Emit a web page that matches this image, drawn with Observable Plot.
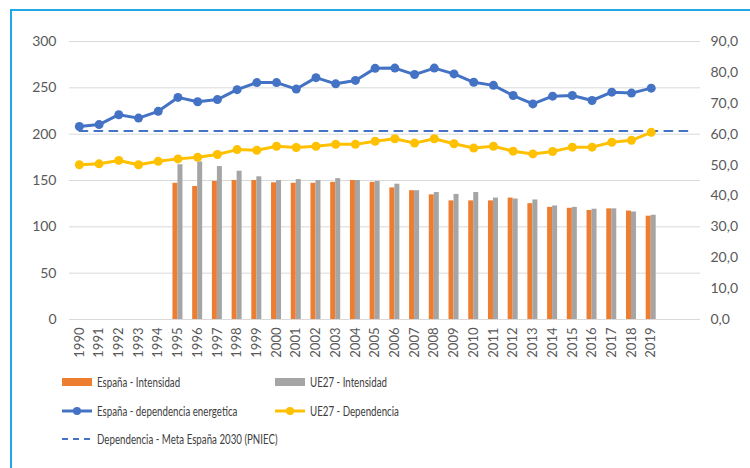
<!DOCTYPE html>
<html>
<head>
<meta charset="utf-8">
<script src="https://cdn.jsdelivr.net/npm/d3@7"></script>
<script src="https://cdn.jsdelivr.net/npm/@observablehq/plot@0.6"></script>
<style>
  body { margin: 0; background: #fff; font-family: Lato, "Open Sans", sans-serif; }
  #frame { position: absolute; left: 10px; top: 9px; width: 780px; height: 500px;
           border-left: 2px solid #21a6e6; border-top: 2px solid #21a6e6; box-sizing: border-box; }
  #chart { position: absolute; left: 0; top: 0; }
  #legend { position: absolute; left: 0; top: 365px; width: 750px; font-size: 13.5px; color: #404040;
            font-family: Lato, sans-serif; }
  .item { position: absolute; display: flex; align-items: center; white-space: nowrap; }
  .item svg { margin-right: 4px; }
  .item span { display: inline-block; transform: scaleX(0.72); transform-origin: left center; }
</style>
</head>
<body>
<div id="frame"></div>
<div id="chart"></div>
<div id="legend"></div>
<script>
const years = d3.range(1990, 2020).map(String);
const extraYears = ["2020", "2021"];
const intYears = d3.range(1995, 2020).map(String);
const espanaIntensidad = [147, 143.5, 149, 150, 150, 147.5, 147, 147, 148, 150, 148, 142, 139, 134.5, 128, 128, 128, 131, 125, 121, 120, 117.6, 119.4, 117, 111.5];
const ue27Intensidad = [167, 170, 165, 160, 154, 150, 151, 150, 152, 150, 149, 146, 139, 137, 135, 137, 131, 130, 129, 122.5, 121, 119, 119.4, 116, 112.5];
const espanaDependencia = [62.5, 63.1, 66.3, 65.2, 67.4, 71.9, 70.5, 71.2, 74.4, 76.7, 76.7, 74.6, 78.3, 76.3, 77.4, 81.3, 81.4, 79.3, 81.4, 79.5, 76.8, 75.8, 72.5, 69.8, 72.3, 72.5, 70.9, 73.6, 73.3, 74.9];
const ue27Dependencia = [50.1, 50.4, 51.5, 50.1, 51.2, 52.0, 52.5, 53.4, 55.0, 54.8, 56.1, 55.7, 56.1, 56.7, 56.7, 57.7, 58.5, 57.1, 58.5, 56.9, 55.5, 56.1, 54.5, 53.6, 54.4, 55.8, 55.8, 57.4, 58.0, 60.6];
const metaPNIEC = 61;
const metaYears = ["1990", "2021"];
const leftTicks = [0, 50, 100, 150, 200, 250, 300];
const rightTicks = [0, 10, 20, 30, 40, 50, 60, 70, 80, 90];

const colors = { esInt: "#ED7D31", ueInt: "#A5A5A5", esDep: "#4472C4", ueDep: "#FFC000", meta: "#4472C4" };
const k = 300 / 90;

const intData = intYears.map((y, i) => ({ year: y, es: espanaIntensidad[i], ue: ue27Intensidad[i] }));
const depData = years.map((y, i) => ({ year: y, es: espanaDependencia[i] * k, ue: ue27Dependencia[i] * k }));
const metaData = metaYears.map(y => ({ year: y, v: metaPNIEC * k }));

const bw = 631 / 32;
const half = bw / 2;

const plot = Plot.plot({
  width: 750, height: 365,
  marginLeft: 69, marginRight: 50, marginTop: 41, marginBottom: 46,
  style: { fontFamily: "Lato, 'Open Sans', sans-serif", background: "transparent" },
  x: { type: "band", domain: years.concat(extraYears), padding: 0, round: false, axis: null },
  y: { domain: [0, 300], axis: null },
  marks: [
    Plot.ruleY(leftTicks, { stroke: "#d9d9d9", strokeWidth: 1 }),
    Plot.barY(intData, { x: "year", y: "es", fill: colors.esInt, insetLeft: half - 5, insetRight: half }),
    Plot.barY(intData, { x: "year", y: "ue", fill: colors.ueInt, insetLeft: half, insetRight: half - 5 }),
    Plot.lineY(metaData, { x: "year", y: "v", stroke: colors.meta, strokeWidth: 2, strokeDasharray: "8,7" }),
    Plot.lineY(depData, { x: "year", y: "ue", stroke: colors.ueDep, strokeWidth: 3 }),
    Plot.dot(depData, { x: "year", y: "ue", fill: colors.ueDep, r: 4.5 }),
    Plot.lineY(depData, { x: "year", y: "es", stroke: colors.esDep, strokeWidth: 3 }),
    Plot.dot(depData, { x: "year", y: "es", fill: colors.esDep, r: 4.5 }),
    Plot.axisY({ ticks: leftTicks, anchor: "left", tickSize: 0, tickPadding: 13, fontSize: 14, color: "#595959", label: null }),
    Plot.axisY({ ticks: rightTicks.map(d => d * k), anchor: "right", tickSize: 0, tickPadding: 10, fontSize: 14, color: "#595959", label: null,
      tickFormat: d => (d / k).toFixed(1).replace(".", ",") }),
    Plot.axisX({ ticks: years, anchor: "bottom", tickSize: 0, tickPadding: 8, tickRotate: -90, fontSize: 13, color: "#595959", label: null })
  ]
});
document.getElementById("chart").appendChild(plot);

const legendItems = [
  { label: "España - Intensidad", type: "bar", color: colors.esInt, x: 62, y: 382 },
  { label: "UE27 - Intensidad", type: "bar", color: colors.ueInt, x: 275, y: 382 },
  { label: "España - dependencia energetica", type: "line", color: colors.esDep, x: 62, y: 411 },
  { label: "UE27 - Dependencia", type: "line", color: colors.ueDep, x: 275, y: 411 },
  { label: "Dependencia - Meta España 2030 (PNIEC)", type: "dash", color: colors.meta, x: 62, y: 439 }
];
const legend = document.getElementById("legend");
for (const it of legendItems) {
  const div = document.createElement("div");
  div.className = "item";
  div.style.left = it.x + "px";
  div.style.top = (it.y - 365 - 9) + "px";
  div.style.height = "18px";
  let sw = "";
  if (it.type === "bar") sw = `<rect x="0" y="5" width="30" height="8" fill="${it.color}"/>`;
  else if (it.type === "line") sw = `<line x1="0" x2="30" y1="9" y2="9" stroke="${it.color}" stroke-width="3"/><circle cx="15" cy="9" r="4" fill="${it.color}"/>`;
  else sw = `<line x1="0" x2="30" y1="9" y2="9" stroke="${it.color}" stroke-width="2" stroke-dasharray="6,5"/>`;
  div.innerHTML = `<svg width="31" height="18">${sw}</svg><span>${it.label}</span>`;
  legend.appendChild(div);
}
</script>
</body>
</html>
